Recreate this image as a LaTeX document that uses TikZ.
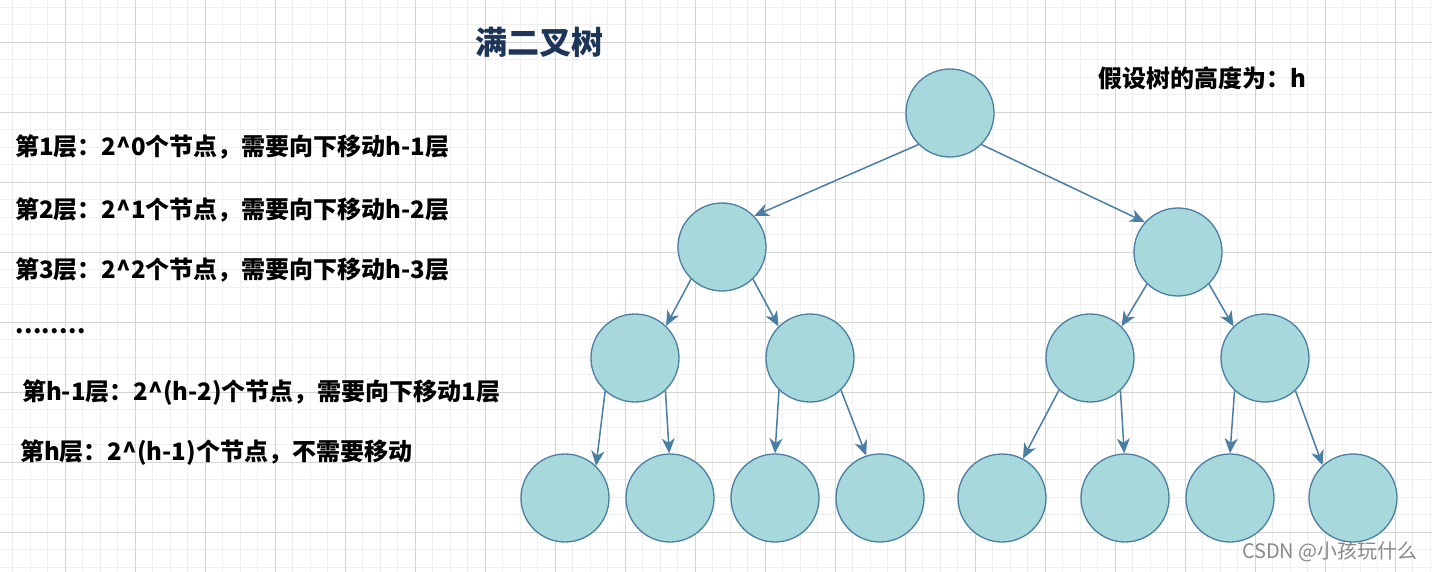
\documentclass[tikz,border=0pt]{standalone}
\usepackage{fontspec}
\newfontfamily\cjk{Noto Sans CJK SC}
\usetikzlibrary{arrows.meta}
\definecolor{gridminor}{HTML}{EFEFEF}
\definecolor{gridmajor}{HTML}{D4D4D4}
\definecolor{nodefill}{HTML}{A7D8DB}
\definecolor{nodedraw}{HTML}{4A7EA2}
\definecolor{titleblue}{HTML}{1D3557}
\definecolor{wmgray}{HTML}{8A8A8A}
\tikzset{
  treenode/.style={circle,draw=nodedraw,fill=nodefill,line width=1.3pt,minimum size=88pt,inner sep=0pt},
  edge/.style={draw=nodedraw,line width=1.5pt,-{Stealth[length=15pt,width=13pt,inset=4.5pt]}},
  label/.style={anchor=west,inner sep=0pt,font=\cjk\bfseries\fontsize{24}{28}\selectfont,text=black},
}
\begin{document}
\begin{tikzpicture}[x=1pt,y=-1pt]
\useasboundingbox (0,0) rectangle (1432,572);
\fill[white] (0,0) rectangle (1432,572);
\begin{scope}
\clip (0,0) rectangle (1432,572);
\foreach \i in {0,...,83} {\draw[gridminor,line width=0.9pt] ({-5+17.5*\i},0) -- ({-5+17.5*\i},572);}
\foreach \i in {0,...,35} {\draw[gridminor,line width=0.9pt] (0,{-28+17.5*\i}) -- (1432,{-28+17.5*\i});}
\foreach \i in {0,...,21} {\draw[gridmajor,line width=0.9pt] ({-5+70*\i},0) -- ({-5+70*\i},572);}
\foreach \i in {0,...,9} {\draw[gridmajor,line width=0.9pt] (0,{-28+70*\i}) -- (1432,{-28+70*\i});}
\end{scope}

% texts
\node[anchor=center,inner sep=0pt,font=\cjk\bfseries\fontsize{32}{36}\selectfont,text=titleblue] (title) at (539,42) {满二叉树};
\node[label] (hh) at (1098,78) {假设树的高度为：h};
\node[label] (l1) at (15,147) {第1层：2\^{}0个节点，需要向下移动h-1层};
\node[label] (l2) at (15,210) {第2层：2\^{}1个节点，需要向下移动h-2层};
\node[label] (l3) at (15,270) {第3层：2\^{}2个节点，需要向下移动h-3层};
\node[label] (dots) at (15,331) {\addfontfeature{LetterSpace=2}........};
\node[label] (l4) at (22,393) {第h-1层：2\^{}(h-2)个节点，需要向下移动1层};
\node[label] (l5) at (20,453) {第h层：2\^{}(h-1)个节点，不需要移动};
\node[anchor=east,inner sep=0pt,font=\cjk\fontsize{20}{23}\selectfont,text=wmgray] (wm) at (1418,552) {CSDN @小孩玩什么};

% tree
\node[treenode] (r) at (950,113) {};
\node[treenode] (a) at (722,247) {};
\node[treenode] (b) at (1178,252) {};
\node[treenode] (a1) at (635,358) {};
\node[treenode] (a2) at (810,358) {};
\node[treenode] (b1) at (1090,358) {};
\node[treenode] (b2) at (1265,358) {};
\node[treenode] (c1) at (565,498) {};
\node[treenode] (c2) at (670,498) {};
\node[treenode] (c3) at (775,498) {};
\node[treenode] (c4) at (880,498) {};
\node[treenode] (c5) at (1002,498) {};
\node[treenode] (c6) at (1125,498) {};
\node[treenode] (c7) at (1230,498) {};
\node[treenode] (c8) at (1353,498) {};

\draw[edge] (r.225) -- (a.44);
\draw[edge] (r.315) -- (b.138);
\draw[edge] (a.226) -- (a1.46);
\draw[edge] (a.314) -- (a2.135);
\draw[edge] (b.226) -- (b1.45);
\draw[edge] (b.314) -- (b2.135);
\draw[edge] (a1.228) -- (c1.46);
\draw[edge] (a1.313) -- (c2.91);
\draw[edge] (a2.226) -- (c3.90);
\draw[edge] (a2.314) -- (c4.108);
\draw[edge] (b1.226) -- (c5.62);
\draw[edge] (b1.313) -- (c6.91);
\draw[edge] (b2.227) -- (c7.90);
\draw[edge] (b2.313) -- (c8.133);
\end{tikzpicture}
\end{document}
